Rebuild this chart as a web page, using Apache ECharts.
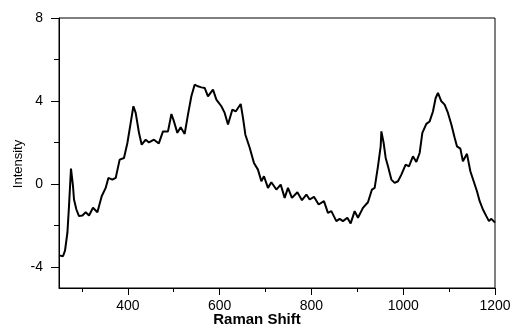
<!DOCTYPE html>
<html>
<head>
<meta charset="utf-8">
<script src="https://cdn.jsdelivr.net/npm/echarts@6/dist/echarts.min.js"></script>
<style>
  html, body { margin: 0; padding: 0; background: #fff; }
  #chart { width: 514px; height: 327px; }
</style>
</head>
<body>
<div id="chart"></div>
<script>
// values
const ramanShift = [
  250, 258.7, 263.1, 268.3, 271.8, 276.1, 280.5, 282.7, 287.9, 293.6,
  301.0, 308.2, 315.4, 324.1, 333.7, 343.0, 351.7, 357.6, 366.3, 373.5,
  382.2, 391.6, 399.0, 406.2, 412.1, 417.1, 424.3, 430.2, 438.9, 446.1,
  457.0, 467.5, 476.6, 487.5, 494.9, 500.5, 507.9, 515.1, 523.8, 531.0,
  538.4, 545.6, 552.8, 560.2, 567.4, 574.6, 585.5, 592.9, 603.8, 611.0,
  618.2, 627.8, 635.0, 645.9, 650.9, 656.1, 665.5, 674.8, 683.5, 690.9,
  696.6, 705.3, 712.7, 723.6, 733.0, 741.7, 748.9, 757.6, 769.4, 779.4,
  789.0, 796.2, 805.5, 815.8, 827.3, 836.0, 843.4, 854.3, 861.5, 868.7,
  878.3, 885.5, 894.2, 901.4, 912.3, 923.2, 931.9, 937.8, 945.0, 950.9,
  952.4, 957.4, 961.8, 966.8, 974.2, 981.4, 988.6, 996.0, 1005.3, 1012.5,
  1021.2, 1028.6, 1035.8, 1041.7, 1050.4, 1057.6, 1064.8, 1070.7, 1075.7, 1083.1,
  1090.3, 1097.5, 1104.9, 1112.1, 1117.1, 1124.5, 1130.1, 1138.9, 1146.3, 1153.5,
  1160.7, 1166.6, 1173.7, 1181.1, 1186.8, 1192.0, 1197.0, 1200
];
const intensity = [
  -3.43, -3.47, -3.2, -2.34, -1.06, 0.75, -0.1, -0.74, -1.22, -1.54,
  -1.51, -1.35, -1.51, -1.14, -1.35, -0.58, -0.18, 0.30, 0.22, 0.30,
  1.18, 1.26, 1.98, 2.95, 3.75, 3.43, 2.47, 1.90, 2.14, 2.01,
  2.14, 1.96, 2.54, 2.54, 3.38, 3.02, 2.47, 2.74, 2.42, 3.35,
  4.23, 4.79, 4.71, 4.66, 4.63, 4.23, 4.55, 4.07, 3.75, 3.43,
  2.87, 3.59, 3.50, 3.86, 3.19, 2.38, 1.75, 1.02, 0.70, 0.14,
  0.38, -0.18, 0.09, -0.26, -0.02, -0.66, -0.18, -0.66, -0.39, -0.77,
  -0.50, -0.74, -0.61, -0.98, -0.82, -1.38, -1.30, -1.78, -1.67, -1.78,
  -1.62, -1.89, -1.30, -1.62, -1.14, -0.87, -0.26, -0.18, 0.86, 1.82,
  2.54, 1.98, 1.26, 0.86, 0.22, 0.06, 0.14, 0.46, 0.94, 0.86,
  1.34, 1.07, 1.50, 2.47, 2.90, 3.02, 3.50, 4.15, 4.39, 3.99,
  3.83, 3.43, 2.87, 2.23, 1.82, 1.71, 1.10, 1.46, 0.62, 0.14,
  -0.34, -0.82, -1.22, -1.54, -1.78, -1.67, -1.78, -1.85
];

const xMajorTicks = [400, 600, 800, 1000, 1200];
const xMinorTicks = [300, 500, 700, 900, 1100];
const yMajorTicks = [-4, 0, 4, 8];
const yMinorTicks = [-2, 2, 6];

const chart = echarts.init(document.getElementById('chart'));

const labelFont = {
  color: '#000',
  fontFamily: 'Liberation Sans, Arial, sans-serif',
  fontSize: 14,
  formatter: (v) => String(v)
};

const option = {
  animation: false,
  grid: {
    left: 59,
    right: 19,
    top: 18,
    bottom: 39,
    show: true,
    borderColor: '#000',
    borderWidth: 1
  },
  xAxis: [
    {
      type: 'value',
      min: 250,
      max: 1200,
      position: 'bottom',
      splitLine: { show: false },
      axisLine: { onZero: false, lineStyle: { color: '#000', width: 1 } },
      axisTick: { customValues: xMajorTicks, length: 7, lineStyle: { color: '#000' } },
      axisLabel: Object.assign({ customValues: xMajorTicks, margin: 11 }, labelFont)
    },
    {
      type: 'value',
      min: 250,
      max: 1200,
      position: 'bottom',
      splitLine: { show: false },
      axisLine: { show: false, onZero: false },
      axisTick: { customValues: xMinorTicks, length: 4, lineStyle: { color: '#000' } },
      axisLabel: { show: false }
    }
  ],
  yAxis: [
    {
      type: 'value',
      min: -5,
      max: 8,
      position: 'left',
      splitLine: { show: false },
      axisLine: { onZero: false, lineStyle: { color: '#000', width: 1 } },
      axisTick: { customValues: yMajorTicks, length: 8, lineStyle: { color: '#000' } },
      axisLabel: Object.assign({ customValues: yMajorTicks, margin: 16 }, labelFont)
    },
    {
      type: 'value',
      min: -5,
      max: 8,
      position: 'left',
      splitLine: { show: false },
      axisLine: { show: false, onZero: false },
      axisTick: { customValues: yMinorTicks, length: 5, lineStyle: { color: '#000' } },
      axisLabel: { show: false }
    }
  ],
  graphic: [
    {
      type: 'text',
      x: 257,
      y: 320,
      style: {
        text: 'Raman Shift',
        fill: '#000',
        font: 'bold 15px "Liberation Sans", Arial, sans-serif',
        align: 'center',
        verticalAlign: 'middle'
      }
    },
    {
      type: 'text',
      x: 18,
      y: 164,
      rotation: Math.PI / 2,
      style: {
        text: 'Intensity',
        fill: '#000',
        font: '13px "Liberation Sans", Arial, sans-serif',
        align: 'center',
        verticalAlign: 'middle'
      }
    }
  ],
  series: [
    {
      type: 'line',
      xAxisIndex: 0,
      yAxisIndex: 0,
      data: ramanShift.map((x, i) => [x, intensity[i]]),
      showSymbol: false,
      symbol: 'none',
      lineStyle: { color: '#000', width: 2 },
      clip: true
    }
  ]
};

chart.setOption(option);
</script>
</body>
</html>
